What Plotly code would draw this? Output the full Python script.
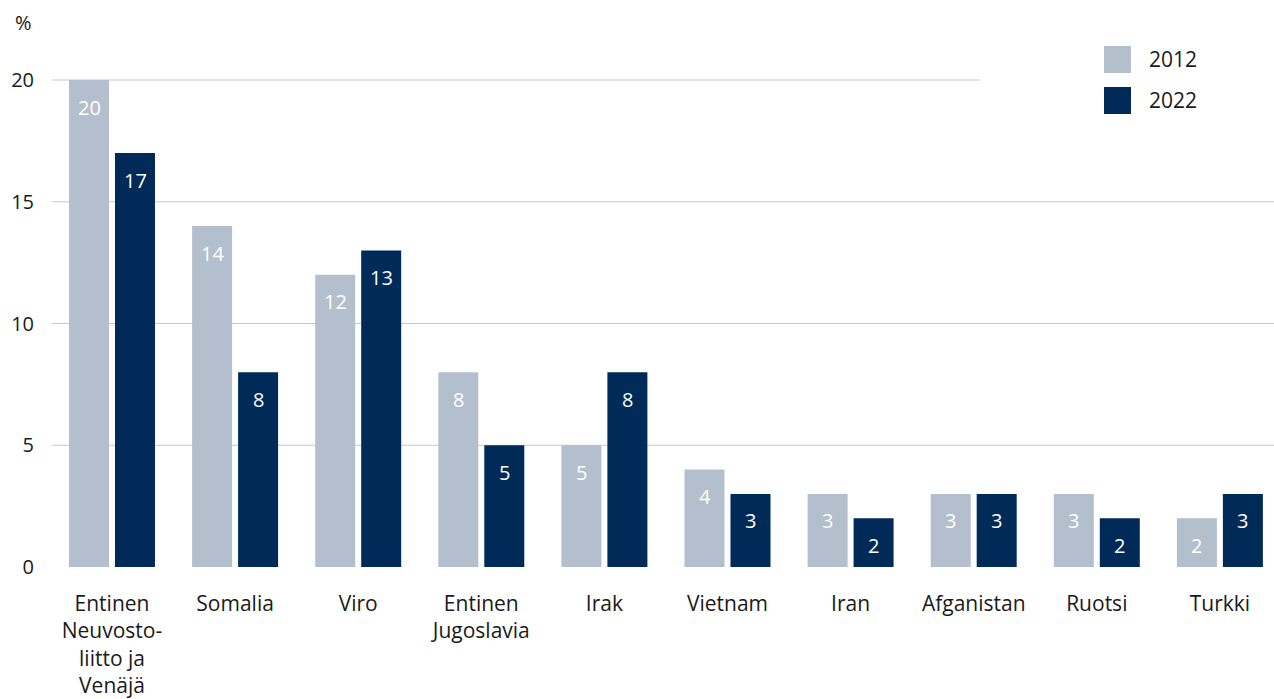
import plotly.graph_objects as go

# Share of foreign-language speakers by country of origin, %
countries = ["Entinen<br>Neuvosto-<br>liitto ja<br>Venäjä", "Somalia", "Viro",
             "Entinen<br>Jugoslavia", "Irak", "Vietnam", "Iran", "Afganistan",
             "Ruotsi", "Turkki"]
values_2012 = [20, 14, 12, 8, 5, 4, 3, 3, 3, 2]
values_2022 = [17, 8, 13, 5, 8, 3, 2, 3, 2, 3]
series_names = ["2012", "2022"]
y_ticks = [0, 5, 10, 15, 20]

COLOR_2012 = "#b3bfcc"
COLOR_2022 = "#002a58"
GRID = "#c8c8c8"
FONT = "Open Sans"
TEXT = "#1a1a1a"

W, H = 1274, 699
M_L, M_R, M_T, M_B = 52, 0, 30, 132
PLOT_W = W - M_L - M_R
PLOT_H = H - M_T - M_B
GROUP_PX = 123.1          # pixel distance between category centres
FIRST_CENTER_PX = 112     # pixel x of first category centre
Y_PX_PER_UNIT = 24.35

x_lo = -(FIRST_CENTER_PX - M_L) / GROUP_PX
x_hi = (W - M_R - FIRST_CENTER_PX) / GROUP_PX
y_hi = PLOT_H / Y_PX_PER_UNIT


def px_x(px):
    return (px - M_L) / PLOT_W


def px_y(py):
    return (H - M_B - py) / PLOT_H


fig = go.Figure()
for name, vals, col in [(series_names[0], values_2012, COLOR_2012),
                        (series_names[1], values_2022, COLOR_2022)]:
    fig.add_trace(go.Bar(x=list(range(len(countries))), y=vals, name=name,
                         marker=dict(color=col, line=dict(width=0)),
                         showlegend=False, hoverinfo="skip"))

annotations = []
# value labels inside bar tops
for vals, shift in [(values_2012, -23), (values_2022, 23)]:
    for i, v in enumerate(vals):
        annotations.append(dict(x=i, y=v, xref="x", yref="y", text=str(v),
                                showarrow=False, xshift=shift, yshift=-27,
                                yanchor="middle", xanchor="center",
                                font=dict(family=FONT, size=20, color="white")))

# unit label
annotations.append(dict(x=px_x(23), y=px_y(22), xref="paper", yref="paper",
                        text="%", showarrow=False, xanchor="center", yanchor="middle",
                        font=dict(family=FONT, size=20, color=TEXT)))

shapes = []
# horizontal gridlines; the top one stops short of the legend
for t in y_ticks[1:]:
    x1 = px_x(980) if t == y_ticks[-1] else 1
    shapes.append(dict(type="line", xref="paper", yref="y", x0=0, x1=x1, y0=t, y1=t,
                       line=dict(color=GRID, width=1), layer="below"))

# legend
for name, col, cy in [(series_names[0], COLOR_2012, 59.5), (series_names[1], COLOR_2022, 100.5)]:
    shapes.append(dict(type="rect", xref="paper", yref="paper",
                       x0=px_x(1104), x1=px_x(1131), y0=px_y(cy + 13.5), y1=px_y(cy - 13.5),
                       fillcolor=col, line=dict(width=0), layer="above"))
    annotations.append(dict(x=px_x(1147), y=px_y(cy), xref="paper", yref="paper",
                            text=name, showarrow=False, xanchor="left", yanchor="middle",
                            font=dict(family=FONT, size=21, color=TEXT)))

fig.update_layout(
    width=W, height=H,
    margin=dict(l=M_L, r=M_R, t=M_T, b=M_B, pad=0),
    paper_bgcolor="white", plot_bgcolor="white",
    barmode="group", bargap=0.253, bargroupgap=0.13,
    font=dict(family=FONT, size=20, color=TEXT),
    annotations=annotations, shapes=shapes,
    showlegend=False,
)
fig.update_xaxes(range=[x_lo, x_hi], tickmode="array",
                 tickvals=list(range(len(countries))), ticktext=countries,
                 showgrid=False, zeroline=False, showline=False, ticks="",
                 ticklabelstandoff=22, tickfont=dict(family=FONT, size=21, color=TEXT))
fig.update_yaxes(range=[0, y_hi], tickmode="array", tickvals=y_ticks,
                 showgrid=False, zeroline=False, showline=False, ticks="",
                 ticklabelstandoff=17, tickfont=dict(family=FONT, size=20, color=TEXT))

fig.write_html("out.html")
